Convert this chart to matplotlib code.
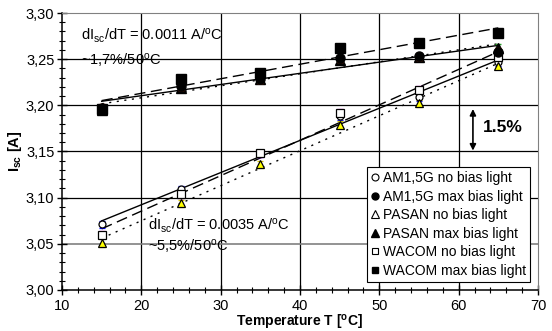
import numpy as np
import matplotlib
matplotlib.use('Agg')
import matplotlib.pyplot as plt
from matplotlib.lines import Line2D
from matplotlib.ticker import MultipleLocator, FuncFormatter

plt.rcParams['font.family'] = ['Liberation Sans', 'DejaVu Sans']

temps = [15, 25, 35, 45, 55, 65]

am_no = [3.071, 3.109, 3.148, 3.188, 3.209, 3.247]
pasan_no = [3.051, 3.094, 3.136, 3.179, 3.202, 3.243]
wacom_no = [3.060, 3.104, 3.148, 3.192, 3.217, 3.252]

am_max = [3.197, 3.221, 3.228, 3.251, 3.253, 3.258]
pasan_max = [3.195, 3.219, 3.228, 3.249, 3.252, 3.262]
wacom_max = [3.196, 3.229, 3.235, 3.262, 3.267, 3.278]

err = 0.004

labels = ['AM1,5G no bias light', 'AM1,5G max bias light',
          'PASAN no bias light', 'PASAN max bias light',
          'WACOM no bias light', 'WACOM max bias light']

fig = plt.figure(figsize=(5.52, 3.31), dpi=100)
ax = fig.add_axes([0.1123, 0.1239, 0.8623, 0.8368])

# grid
for gx in [20, 30, 40, 50, 60]:
    ax.axvline(gx, color='black', lw=0.9, zorder=0)
for gy in [3.10, 3.15, 3.20, 3.25]:
    ax.axhline(gy, color='black', lw=0.9, zorder=0)
ax.axhline(3.05, color='#808080', lw=1.2, zorder=0)

x = np.array(temps, dtype=float)
xf = np.array([15, 65], dtype=float)

# linear fits (trendlines)
fits = [(am_no, '-'), (wacom_no, (0, (8, 4))), (pasan_no, (0, (1.5, 4))),
        (am_max, '-'), (wacom_max, (0, (8, 4))), (pasan_max, (0, (1.5, 4)))]
for ys, ls in fits:
    k, b = np.polyfit(x, ys, 1)
    ax.plot(xf, k * xf + b, color='black', lw=1.0, linestyle=ls, zorder=2)

# data points with small error bars
ax.errorbar(x, am_no, yerr=err, fmt='o', ms=5, mfc='white', mec='black', mew=0.9,
            ecolor='blue', elinewidth=1, capsize=2, zorder=4)
ax.errorbar(x, wacom_no, yerr=err, fmt='s', ms=5.5, mfc='white', mec='black', mew=0.9,
            ecolor='magenta', elinewidth=1, capsize=2, zorder=4)
ax.errorbar(x, pasan_no, yerr=err, fmt='^', ms=6, mfc='yellow', mec='black', mew=0.9,
            ecolor='#d8c800', elinewidth=1, capsize=2, zorder=4)
ax.errorbar(x, pasan_max, yerr=err, fmt='^', ms=6.5, mfc='black', mec='black',
            ecolor='#2ca02c', elinewidth=1, capsize=2, zorder=4)
ax.errorbar(x, am_max, yerr=err, fmt='o', ms=6.5, mfc='black', mec='black',
            ecolor='#d04010', elinewidth=1, capsize=2, zorder=5)
ax.errorbar(x, wacom_max, yerr=err, fmt='s', ms=7, mfc='black', mec='black',
            ecolor='#c87830', elinewidth=1, capsize=2, zorder=5)

ax.set_xlim(10, 70)
ax.set_ylim(3.00, 3.30)
ax.xaxis.set_major_locator(MultipleLocator(10))
ax.xaxis.set_minor_locator(MultipleLocator(2))
ax.yaxis.set_major_locator(MultipleLocator(0.05))
ax.yaxis.set_minor_locator(MultipleLocator(0.01))
ax.yaxis.set_major_formatter(FuncFormatter(lambda v, p: ('%.2f' % v).replace('.', ',')))
ax.tick_params(which='major', direction='inout', length=7, width=1, labelsize=10.5)
ax.tick_params(which='minor', direction='inout', length=4, width=0.8)
ax.tick_params(axis='x', pad=3)
ax.tick_params(axis='y', pad=2)

for s in ['top', 'right']:
    ax.spines[s].set_color('#808080')
for s in ['left', 'bottom']:
    ax.spines[s].set_color('black')
    ax.spines[s].set_linewidth(1.1)

ax.set_xlabel('Temperature T [$\\mathregular{^oC}$]', fontsize=10, fontweight='bold', labelpad=0)
ax.set_ylabel('I$_{\\mathregular{sc}}$ [A]', fontsize=10.5, fontweight='bold', labelpad=1)

ax.text(12.4, 3.276, 'dI$_{\\mathregular{sc}}$/dT = 0.0011 A/$\\mathregular{^o}$C', fontsize=10.5, va='center')
ax.text(12.4, 3.249, '~1,7%/50$\\mathregular{^o}$C', fontsize=10.5, va='center')
ax.text(20.8, 3.070, 'dI$_{\\mathregular{sc}}$/dT = 0.0035 A/$\\mathregular{^o}$C', fontsize=10.5, va='center')
ax.text(20.8, 3.048, '~5,5%/50$\\mathregular{^o}$C', fontsize=10.5, va='center')

ax.annotate('', xy=(61.8, 3.199), xytext=(61.8, 3.148),
            arrowprops=dict(arrowstyle='<|-|>', color='black', lw=1.2, mutation_scale=9))
ax.text(63.0, 3.176, '1.5%', fontsize=12.5, fontweight='bold', va='center')

handles = [Line2D([], [], ls='none', marker='o', ms=5, mfc='white', mec='black', mew=0.8),
           Line2D([], [], ls='none', marker='o', ms=5, mfc='black', mec='black'),
           Line2D([], [], ls='none', marker='^', ms=5.5, mfc='white', mec='black', mew=0.8),
           Line2D([], [], ls='none', marker='^', ms=5.5, mfc='black', mec='black'),
           Line2D([], [], ls='none', marker='s', ms=5, mfc='white', mec='black', mew=0.8),
           Line2D([], [], ls='none', marker='s', ms=5, mfc='black', mec='black')]
leg = ax.legend(handles, labels, loc='lower right', bbox_to_anchor=(0.983, 0.03), fontsize=10,
                frameon=True, fancybox=False, edgecolor='black', framealpha=1,
                handlelength=0.6, handletextpad=0.25, labelspacing=0.32, borderpad=0.3,
                borderaxespad=0)
leg.get_frame().set_linewidth(0.8)
leg.set_zorder(10)

fig.savefig('out.png', dpi=100)
